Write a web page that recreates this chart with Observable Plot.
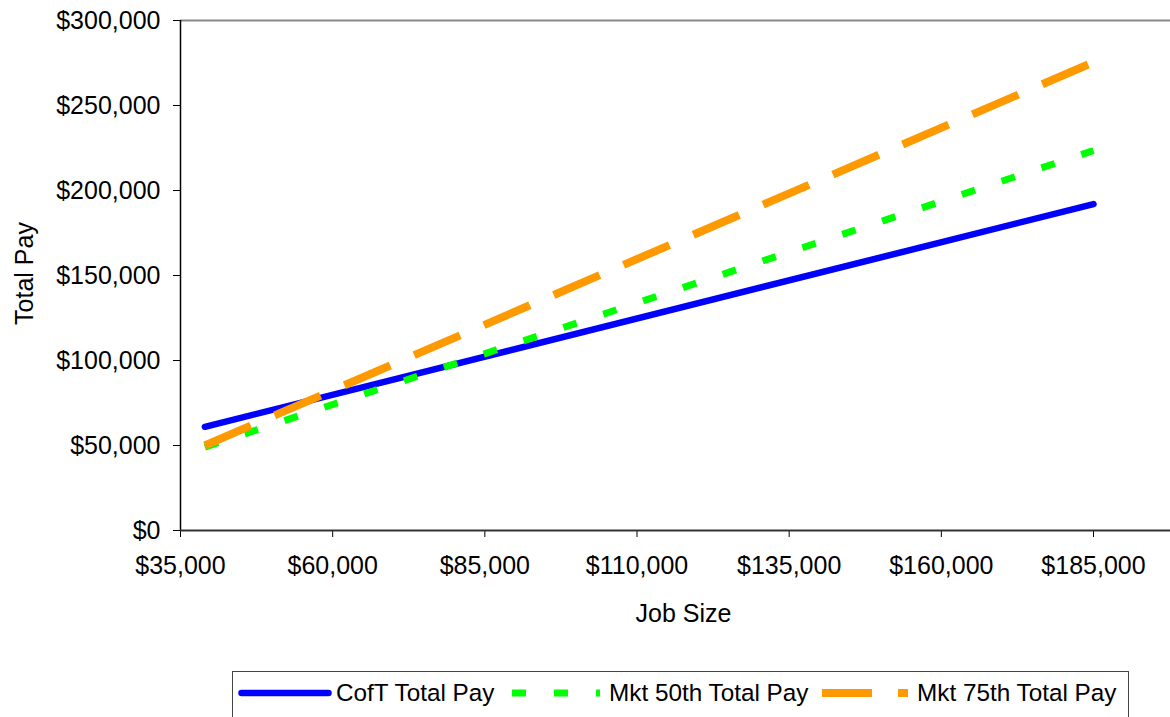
<!DOCTYPE html>
<html>
<head>
<meta charset="utf-8">
<script src="https://cdn.jsdelivr.net/npm/d3@7"></script>
<script src="https://cdn.jsdelivr.net/npm/@observablehq/plot@0.6"></script>
<style>
  html, body { margin: 0; padding: 0; background: #fff; overflow: hidden; }
  body { width: 1170px; height: 717px; font-family: "Liberation Sans", Arial, sans-serif; }
  #chart svg { display: block; }
  #legend { position: absolute; left: 232px; top: 671px; width: 897px; height: 70px;
            border: 1.5px solid #444; box-sizing: border-box; background: #fff; }
  .item { position: absolute; top: 0; height: 42px; display: flex; align-items: center; }
  .item span { font-size: 24.3px; color: #000; white-space: nowrap; }
</style>
</head>
<body>
<div id="chart"></div>
<div id="legend"></div>
<script>
// ---- data ----
const seriesNames = ["CofT Total Pay", "Mkt 50th Total Pay", "Mkt 75th Total Pay"];
const seriesColors = ["#0000ff", "#00ff00", "#ff9900"];
const jobSize = [39000, 185000];
const cofTPay = [61000, 192000];
const mkt50Pay = [49000, 223500];
const mkt75Pay = [50000, 275500];
const xTicks = [35000, 60000, 85000, 110000, 135000, 160000, 185000];
const yTicks = [0, 50000, 100000, 150000, 200000, 250000, 300000];

const seriesValues = [cofTPay, mkt50Pay, mkt75Pay];
const data = seriesNames.flatMap((name, i) =>
  jobSize.map((x, j) => ({series: name, x, y: seriesValues[i][j]})));

const fmt = d3.format("$,");
const styles = [
  {strokeWidth: 6.5, strokeLinecap: "round"},
  {strokeWidth: 7, strokeDasharray: "14,28", strokeLinecap: "butt"},
  {strokeWidth: 8, strokeDasharray: "50,26", strokeLinecap: "butt"}
];

const chart = Plot.plot({
  width: 1170,
  height: 668,
  marginLeft: 180,
  marginRight: 0,
  marginTop: 20,
  marginBottom: 138,
  style: {fontFamily: "'Liberation Sans', Arial, sans-serif", fontSize: "25px", background: "#fff", color: "#000", overflow: "visible"},
  x: {domain: [35000, 197650]},
  y: {domain: [0, 300000]},
  marks: [
    Plot.ruleY([300000], {stroke: "#888", strokeWidth: 2}),
    Plot.axisY({ticks: yTicks, tickFormat: fmt, tickSize: 7, tickPadding: 13, label: null, fontSize: 25}),
    Plot.axisX({ticks: xTicks, tickFormat: fmt, tickSize: 7, tickPadding: 19, label: null, fontSize: 25}),
    Plot.ruleX([35000], {stroke: "#000", strokeWidth: 1.5}),
    Plot.ruleY([0], {stroke: "#333", strokeWidth: 2}),
    ...seriesNames.map((name, i) => Plot.line(data.filter(d => d.series === name),
      {x: "x", y: "y", stroke: seriesColors[i], ...styles[i]})),
    Plot.text(["Job Size"], {frameAnchor: "bottom", dx: 8, dy: 91, fontSize: 25, fill: "#000"}),
    Plot.text(["Total Pay"], {frameAnchor: "left", textAnchor: "middle", dx: -156, dy: -2, rotate: -90, fontSize: 25, fill: "#000"})
  ]
});
document.getElementById("chart").appendChild(chart);

// ---- legend ----
const legend = document.getElementById("legend");
const swatchX = [5, 279, 589];
const swatchW = [94, 88, 86];
seriesNames.forEach((name, i) => {
  const item = document.createElement("div");
  item.className = "item";
  item.style.left = swatchX[i] + "px";
  const s = styles[i];
  const pad = s.strokeLinecap === "round" ? 3.5 : 0;
  item.innerHTML = `<svg width="${swatchW[i]}" height="20" style="margin-right:${i === 0 ? 4 : 9}px">
    <line x1="${pad}" x2="${swatchW[i] - pad}" y1="10" y2="10" stroke="${seriesColors[i]}"
      stroke-width="${s.strokeWidth}" stroke-linecap="${s.strokeLinecap}"
      ${s.strokeDasharray ? `stroke-dasharray="${s.strokeDasharray}"` : ""}/></svg><span>${name}</span>`;
  legend.appendChild(item);
});
</script>
</body>
</html>
